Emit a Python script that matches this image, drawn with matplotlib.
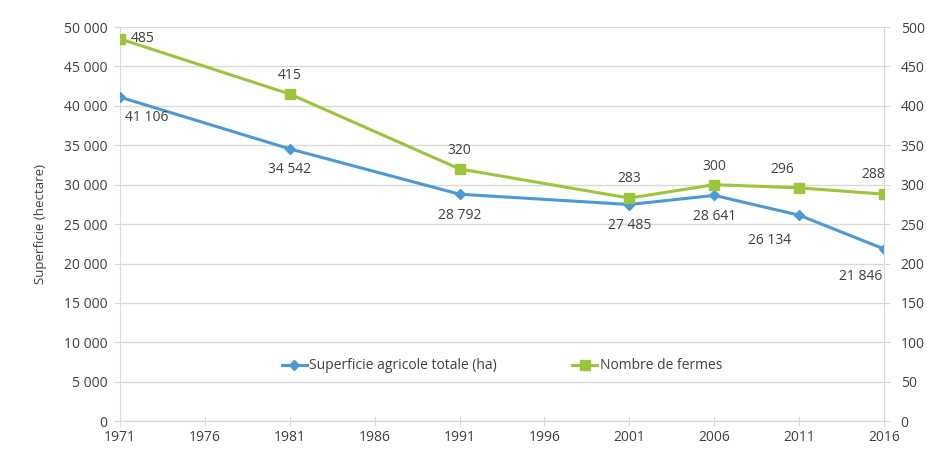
import matplotlib
matplotlib.use("Agg")
import matplotlib.pyplot as plt
from matplotlib.ticker import FuncFormatter, MultipleLocator

# data
years = [1971, 1981, 1991, 2001, 2006, 2011, 2016]
superficie = [41106, 34542, 28792, 27485, 28641, 26134, 21846]
fermes = [485, 415, 320, 283, 300, 296, 288]
xticks = list(range(1971, 2017, 5))

label_sup = "Superficie agricole totale (ha)"
label_fermes = "Nombre de fermes"
ylabel_left = "Superficie (hectare)"

BLUE = "#4c9ad5"
GREEN = "#9cc43c"
GRID = "#d9d9d9"
TXT = "#404040"
FS = 10

plt.rcParams["font.family"] = ["Open Sans", "DejaVu Sans"]

fig = plt.figure(figsize=(9.28, 4.49), dpi=100)
ax = fig.add_axes([0.1293, 0.0620, 0.8233, 0.8778])
ax2 = ax.twinx()


def spaced(v, _pos=None):
    return f"{int(v):,}".replace(",", " ")


l1, = ax.plot(years, superficie, color=BLUE, lw=2.2, marker="D", ms=5, zorder=3)
l2, = ax2.plot(years, fermes, color=GREEN, lw=2.2, marker="s", ms=6.5, zorder=3)

ax.set_xlim(1971, 2016)
ax.set_ylim(0, 50000)
ax2.set_ylim(0, 500)
ax.set_xticks(xticks)
ax.yaxis.set_major_locator(MultipleLocator(5000))
ax2.yaxis.set_major_locator(MultipleLocator(50))
ax.yaxis.set_major_formatter(FuncFormatter(spaced))
ax.grid(axis="y", color=GRID, lw=1)
ax.set_axisbelow(True)

for a in (ax, ax2):
    a.spines["top"].set_visible(False)
    for s in ("left", "right", "bottom"):
        a.spines[s].set_color(GRID)
    a.tick_params(colors=GRID, labelcolor=TXT, labelsize=FS, length=4)
ax2.spines["left"].set_visible(False)
ax2.spines["bottom"].set_visible(False)
ax.spines["right"].set_visible(False)
ax.tick_params(axis="x", direction="inout", length=7, pad=3)
ax.tick_params(axis="y", pad=5)
ax2.tick_params(axis="y", pad=8)
ax.set_ylabel(ylabel_left, color=TXT, fontsize=FS - 0.5, labelpad=12)

# data labels
off_sup = [(19, -15), (0, -15), (0, -15), (0, -15), (0, -15), (-21, -18), (-17, -20)]
for x, y, (dx, dy) in zip(years, superficie, off_sup):
    ax.annotate(spaced(y), (x, y), xytext=(dx, dy), textcoords="offset points",
                ha="center", va="center", fontsize=FS, color=TXT)
off_f = [(16, 0), (0, 13), (0, 13), (0, 14), (0, 13), (-12, 13), (-8, 14)]
for x, y, (dx, dy) in zip(years, fermes, off_f):
    ax2.annotate(str(y), (x, y), xytext=(dx, dy), textcoords="offset points",
                 ha="center", va="center", fontsize=FS, color=TXT)

leg = ax.legend([l1, l2], [label_sup, label_fermes], loc="center",
                bbox_to_anchor=(0.50, 0.14), ncol=2, frameon=False,
                fontsize=FS, handlelength=1.8, handletextpad=0.2,
                columnspacing=5.4, labelcolor=TXT)

fig.savefig("out.png", dpi=100)
